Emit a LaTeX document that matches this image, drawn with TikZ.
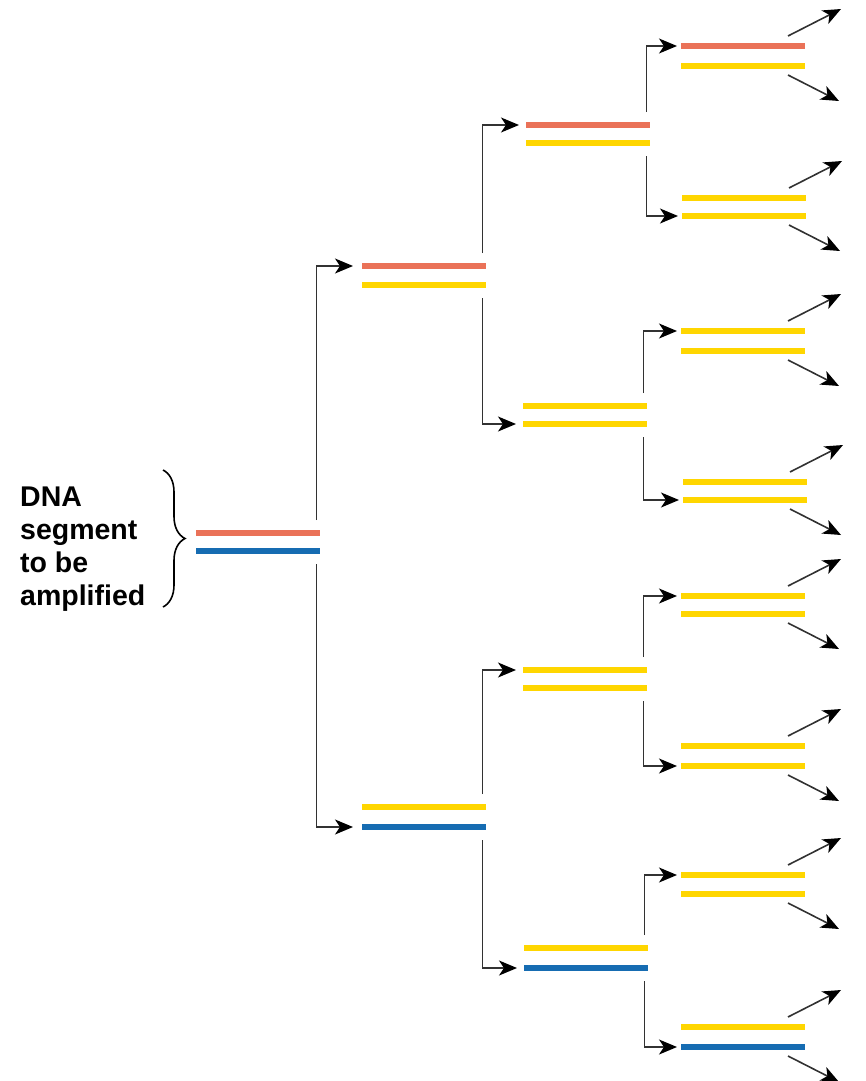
\documentclass[tikz,border=0pt]{standalone}
\usepackage{fontspec}
\setmainfont{Liberation Sans}
\usetikzlibrary{arrows.meta,calc,decorations.pathreplacing}
\definecolor{dnared}{RGB}{234,114,88}
\definecolor{dnayellow}{RGB}{255,214,0}
\definecolor{dnablue}{RGB}{22,108,178}
\definecolor{connc}{RGB}{50,50,50}
\tikzset{
  strand/.style={line width=6pt},
  conn/.style={draw=connc,line width=1.6pt,
    arrows={-Stealth[length=18pt,width=15pt,inset=5pt,fill=black,color=black]}},
  outarrow/.style={conn},
  label/.style={font=\bfseries\fontsize{28.5}{33}\selectfont,align=left,inner sep=0pt,anchor=north west},
}
% name, x-left, ytop, ybottom, colour top, colour bottom
\newcommand\dnapair[6]{%
  \coordinate (#1-tl) at (#2,#3);
  \coordinate (#1-bl) at (#2,#4);
  \draw[strand,draw=#5] (#1-tl) -- ++(124,0) coordinate (#1-tr);
  \draw[strand,draw=#6] (#1-bl) -- ++(124,0) coordinate (#1-br);
}
% parent, upper child, lower child, gap before child
\newcommand\dnasplit[4]{%
  \draw[conn] ($(#1-tr)+(-3.5,-13)$) |- ($(#2-tl)+(-#4,0)$);
  \draw[conn] ($(#1-br)+(-3.5,13)$) |- ($(#3-bl)+(-#4,0)$);
}
% leaf outputs
\newcommand\dnaout[1]{%
  \coordinate (#1-uo) at ($(#1-tr)+(36,-37)$);
  \coordinate (#1-do) at ($(#1-br)+(34,35)$);
  \draw[outarrow] ($(#1-tr)+(-17,-10)$) -- (#1-uo);
  \draw[outarrow] ($(#1-br)+(-17,9)$) -- (#1-do);
}
\begin{document}
\begin{tikzpicture}[x=1pt,y=-1pt]
\useasboundingbox (0,0) rectangle (865,1081);
% level 0
\dnapair{P}{196}{533}{551}{dnared}{dnablue}
% level 1
\dnapair{U}{362}{266}{285}{dnared}{dnayellow}
\dnapair{L}{362}{807}{827}{dnayellow}{dnablue}
% level 2
\dnapair{A}{526}{125}{143}{dnared}{dnayellow}
\dnapair{B}{523}{406}{424}{dnayellow}{dnayellow}
\dnapair{C}{523}{670}{688}{dnayellow}{dnayellow}
\dnapair{D}{524}{948}{968}{dnayellow}{dnablue}
% level 3
\dnapair{A1}{681}{46}{66}{dnared}{dnayellow}
\dnapair{A2}{682}{198}{216}{dnayellow}{dnayellow}
\dnapair{B1}{681}{331}{351}{dnayellow}{dnayellow}
\dnapair{B2}{683}{482}{500}{dnayellow}{dnayellow}
\dnapair{C1}{681}{596}{614}{dnayellow}{dnayellow}
\dnapair{C2}{681}{746}{766}{dnayellow}{dnayellow}
\dnapair{D1}{681}{875}{894}{dnayellow}{dnayellow}
\dnapair{D2}{681}{1027}{1047}{dnayellow}{dnablue}
% connectors
\dnasplit{P}{U}{L}{9}
\dnasplit{U}{A}{B}{7}
\dnasplit{L}{C}{D}{7}
\dnasplit{A}{A1}{A2}{4}
\dnasplit{B}{B1}{B2}{4}
\dnasplit{C}{C1}{C2}{4}
\dnasplit{D}{D1}{D2}{4}
\foreach \n in {A1,A2,B1,B2,C1,C2,D1,D2} {\dnaout{\n}}
% label and brace
\node[label] (lbl) at (20,487) {DNA\\segment\\to be\\amplified};
\draw[line width=1.6pt,decorate,decoration={brace,amplitude=22pt}] (163,470) -- (163,607);
\end{tikzpicture}
\end{document}
